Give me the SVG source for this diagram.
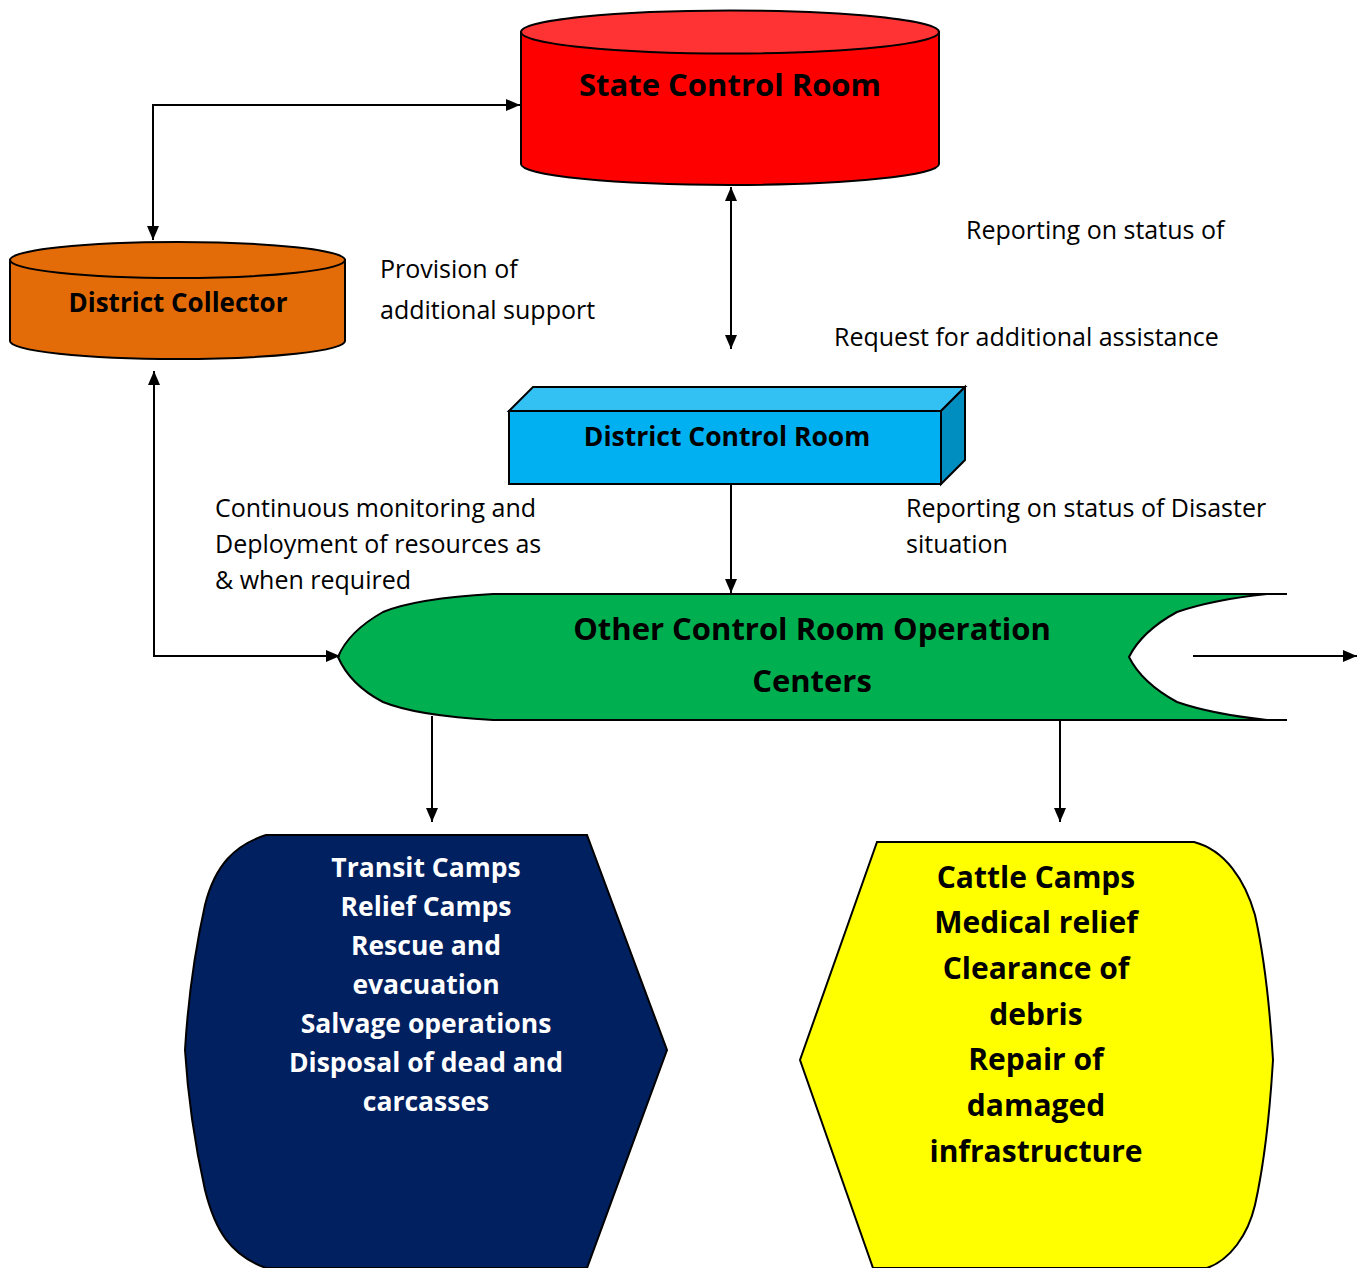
<svg xmlns="http://www.w3.org/2000/svg" width="1359" height="1268" viewBox="0 0 1359 1268">
<style>
.lbl{font-family:"Open Sans",Lato,"Liberation Sans",sans-serif;font-size:25px;fill:#000}
.bt{font-family:"Open Sans",Lato,"Liberation Sans",sans-serif;font-weight:bold;text-anchor:middle}
.shp{stroke:#000;stroke-width:2}
.cn{fill:none;stroke:#000;stroke-width:2}
</style>
<defs>
<marker id="ah" viewBox="0 0 10 10" refX="10" refY="5" markerWidth="14" markerHeight="12" orient="auto-start-reverse" markerUnits="userSpaceOnUse" preserveAspectRatio="none"><path d="M0,0 L10,5 L0,10 z" fill="#000"/></marker>
</defs>
<rect width="1359" height="1268" fill="#fff"/>

<g id="state-control-room">
<path class="shp" d="M521,32 L521,164 A209,21 0 0 0 939,164 L939,32 Z" fill="#FF0000"/>
<ellipse class="shp" cx="730" cy="32" rx="209" ry="21.5" fill="#FF3333"/>
<text class="bt" x="730" y="96" font-size="31">State Control Room</text>
</g>

<g id="district-collector">
<path class="shp" d="M10,260 L10,341 A167.5,18 0 0 0 345,341 L345,260 Z" fill="#E36C09"/>
<ellipse class="shp" cx="177.5" cy="260" rx="167.5" ry="18" fill="#E36C09"/>
<text class="bt" x="178" y="312" font-size="26">District Collector</text>
</g>

<g id="district-control-room">
<rect class="shp" x="509" y="411" width="432" height="73" fill="#00B0F0"/>
<path class="shp" d="M509,411 L533,387 L965,387 L941,411 Z" fill="#33C0F3"/>
<path class="shp" d="M941,411 L965,387 L965,460 L941,484 Z" fill="#008DC0"/>
<text class="bt" x="727" y="446" font-size="26.5">District Control Room</text>
</g>

<g id="other-control-room">
<path class="shp" d="M1287,594 L493,594 C440,597 405,603 383,612 C360,625 345,640 338,657 C345,673 360,690 383,702 C405,711 440,717 493,720 L1287,720" fill="#00B050"/>
<path class="shp" d="M1287,720 L1267,720 C1230,716 1200,710 1177,702 C1155,690 1138,675 1129,657 C1138,639 1155,624 1177,612 C1200,604 1230,598 1267,594 L1287,594" fill="#fff"/>
<text class="bt" x="812" y="640" font-size="31">Other Control Room Operation</text>
<text class="bt" x="812" y="692" font-size="31">Centers</text>
</g>

<g id="transit-camps">
<path class="shp" d="M266,835 L587,835 L667,1050 L587,1268 L266,1268 C230,1255 215,1230 205,1190 C195,1145 188,1100 185,1050 C188,1000 195,950 205,905 C215,865 235,845 266,835 Z" fill="#002060"/>
<g class="bt" font-size="26.5" fill="#fff">
<text x="426" y="877">Transit Camps</text>
<text x="426" y="916">Relief Camps</text>
<text x="426" y="955">Rescue and</text>
<text x="426" y="994">evacuation</text>
<text x="426" y="1033">Salvage operations</text>
<text x="426" y="1072">Disposal of dead and</text>
<text x="426" y="1111">carcasses</text>
</g>
</g>

<g id="cattle-camps">
<path class="shp" d="M877,842 L1194,842 C1225,850 1245,880 1255,915 C1265,960 1270,1010 1273,1060 C1270,1110 1265,1160 1255,1205 C1248,1235 1230,1260 1207,1268 L873,1268 L800,1060 Z" fill="#FFFF00"/>
<g class="bt" font-size="30" fill="#000">
<text x="1036" y="888">Cattle Camps</text>
<text x="1036" y="933">Medical relief</text>
<text x="1036" y="979">Clearance of</text>
<text x="1036" y="1025">debris</text>
<text x="1036" y="1070">Repair of</text>
<text x="1036" y="1116">damaged</text>
<text x="1036" y="1162">infrastructure</text>
</g>
</g>

<g id="labels">
<text class="lbl" x="380" y="278">Provision of</text>
<text class="lbl" x="380" y="319">additional support</text>
<text class="lbl" x="966" y="239">Reporting on status of</text>
<text class="lbl" x="834" y="346">Request for additional assistance</text>
<text class="lbl" x="215" y="517">Continuous monitoring and</text>
<text class="lbl" x="215" y="553">Deployment of resources as</text>
<text class="lbl" x="215" y="589">&amp; when required</text>
<text class="lbl" x="906" y="517">Reporting on status of Disaster</text>
<text class="lbl" x="906" y="553">situation</text>
</g>

<g id="connectors">
<path class="cn" d="M153,240 L153,105 L520,105" marker-start="url(#ah)" marker-end="url(#ah)"/>
<path class="cn" d="M731,187 L731,349" marker-start="url(#ah)" marker-end="url(#ah)"/>
<path class="cn" d="M154,371 L154,656 L340,656" marker-start="url(#ah)" marker-end="url(#ah)"/>
<path class="cn" d="M731,485 L731,593" marker-end="url(#ah)"/>
<path class="cn" d="M1193,656 L1357,656" marker-end="url(#ah)"/>
<path class="cn" d="M432,716 L432,822" marker-end="url(#ah)"/>
<path class="cn" d="M1060,721 L1060,822" marker-end="url(#ah)"/>
</g>
</svg>
